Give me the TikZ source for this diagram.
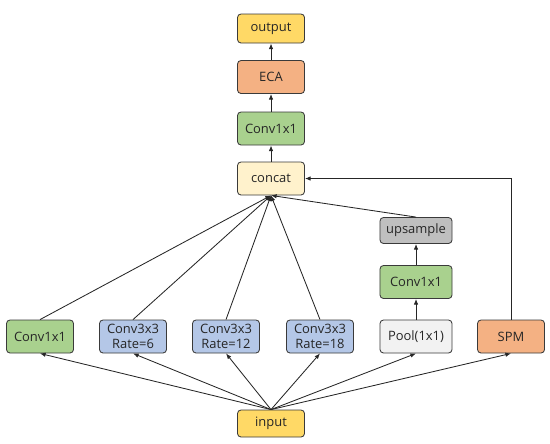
\documentclass[tikz,border=0pt]{standalone}
\usepackage{fontspec}
\setmainfont{Open Sans}
\usepackage{tikz}
\usetikzlibrary{arrows.meta,positioning,calc}

\definecolor{cYellow}{HTML}{FFD966}
\definecolor{cOrange}{HTML}{F4B183}
\definecolor{cGreen}{HTML}{A9D18E}
\definecolor{cCream}{HTML}{FFF2CC}
\definecolor{cGray}{HTML}{BFBFBF}
\definecolor{cLight}{HTML}{F2F2F2}
\definecolor{cBlue}{HTML}{B4C7E7}
\definecolor{cLine}{HTML}{3A3A3A}

\begin{document}
\begin{tikzpicture}[x=0.025cm, y=-0.025cm,
    blk/.style={draw=cLine, line width=0.6pt, rounded corners=2.5pt,
        minimum width=1.675cm, minimum height=0.825cm, align=center,
        inner sep=1pt, font=\fontsize{9.2}{10.2}\selectfont, text=black!85},
    arr/.style={-{Latex[length=1.4mm,width=1.1mm]}, line width=0.6pt, draw=black!85}
]

% fixed page size (reference 550x443)
\useasboundingbox (0,0) rectangle (550,443);

% top stack
\node[blk, fill=cYellow, minimum height=0.725cm] (out) at (271,28.5) {output};
\node[blk, fill=cOrange] (eca) at (271,77) {ECA};
\node[blk, fill=cGreen] (convtop) at (271,128.5) {Conv1x1};
\node[blk, fill=cCream] (concat) at (271,178.5) {concat};

% pooling branch
\node[blk, fill=cGray, minimum width=1.8cm, minimum height=0.65cm] (up) at (416,230.5) {upsample};
\node[blk, fill=cGreen, minimum width=1.8cm] (convpool) at (416,282) {Conv1x1};

% bottom row
\node[blk, fill=cGreen] (c1) at (40,336.5) {Conv1x1};
\node[blk, fill=cBlue] (r6) at (133,336.5) {Conv3x3\\Rate=6};
\node[blk, fill=cBlue] (r12) at (226,336.5) {Conv3x3\\Rate=12};
\node[blk, fill=cBlue] (r18) at (320,336.5) {Conv3x3\\Rate=18};
\node[blk, fill=cLight, minimum width=1.8cm] (pool) at (416,336.5) {Pool(1x1)};
\node[blk, fill=cOrange] (spm) at (511,336.5) {SPM};

\node[blk, fill=cYellow, minimum height=0.675cm] (in) at (271,423.5) {input};

% input to branches
\foreach \b in {c1,r6,r12,r18,pool,spm}
    \draw[arr] (in.north) -- (\b.south);

% branches to concat
\foreach \b in {c1,r6,r12,r18,up}
    \draw[arr] (\b.north) -- (concat.south);
\draw[arr] (spm.north) |- (concat.east);

% pooling chain
\draw[arr] (pool) -- (convpool);
\draw[arr] (convpool) -- (up);

% head
\draw[arr] (concat) -- (convtop);
\draw[arr] (convtop) -- (eca);
\draw[arr] (eca) -- (out);

\end{tikzpicture}
\end{document}
